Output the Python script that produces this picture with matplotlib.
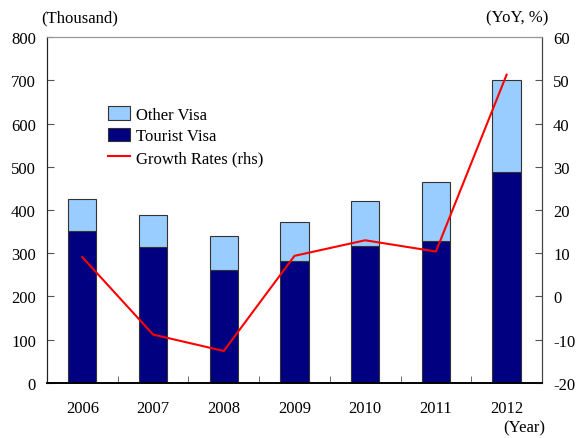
import numpy as np
import matplotlib.pyplot as plt

plt.rcParams['font.family'] = ['Liberation Serif', 'DejaVu Serif']
plt.rcParams['axes.unicode_minus'] = False

years = ['2006', '2007', '2008', '2009', '2010', '2011', '2012']
tourist = [351, 314, 262, 281, 316, 328, 489]
total = [425, 389, 339, 372, 420, 464, 701]
other = [t - v for t, v in zip(total, tourist)]
growth = [9.1, -8.8, -12.6, 9.4, 13.0, 10.4, 51.3]

x = np.arange(len(years))

fig = plt.figure(figsize=(5.78, 4.39), dpi=100)
ax = fig.add_axes([0.0813, 0.1253, 0.8564, 0.7881])

b1 = ax.bar(x, tourist, width=0.4, color='#000080', edgecolor='#333333', linewidth=0.8,
            label='Tourist Visa', zorder=2)
b2 = ax.bar(x, other, width=0.4, bottom=tourist, color='#99CCFF', edgecolor='#333333',
            linewidth=0.8, label='Other Visa', zorder=2)
ax.set_xlim(-0.5, len(years) - 0.5)
ax.set_ylim(0, 800)
ax.set_yticks(range(0, 801, 100))
ax.set_xticks(x)
ax.set_xticklabels(years)
ax.set_xticks(x[:-1] + 0.5, minor=True)
ax.tick_params(axis='x', which='major', length=0, pad=12, labelsize=12)
ax.tick_params(axis='x', which='minor', direction='in', length=5, color='#555555')
ax.tick_params(axis='y', direction='in', length=5, labelsize=12, pad=8, color='#555555')

ax2 = ax.twinx()
ln, = ax2.plot(x, growth, color='red', linewidth=1.5, label='Growth Rates (rhs)', zorder=3)
ax2.set_ylim(-20, 60)
ax2.set_yticks(range(-20, 61, 10))
ax2.tick_params(axis='y', direction='in', length=5, labelsize=12, pad=8, color='#555555')

for a in (ax, ax2):
    a.spines['top'].set_color('#999999')
    a.spines['left'].set_color('#222222')
    a.spines['right'].set_color('#444444')
    a.spines['bottom'].set_color('black')
    a.spines['bottom'].set_linewidth(1.2)

ax.legend([b2, b1, ln], ['Other Visa', 'Tourist Visa', 'Growth Rates (rhs)'],
          loc='upper left', bbox_to_anchor=(0.11, 0.82), frameon=False,
          fontsize=12, handlelength=1.3, handleheight=0.9, labelspacing=0.3,
          handletextpad=0.4, borderaxespad=0)

fig.text(0.071, 0.959, '(Thousand)', fontsize=12, ha='left', va='center')
fig.text(0.948, 0.959, '(YoY, %)', fontsize=12, ha='right', va='center')
fig.text(0.943, 0.025, '(Year)', fontsize=12, ha='right', va='center')

fig.savefig('out.png', dpi=100)
